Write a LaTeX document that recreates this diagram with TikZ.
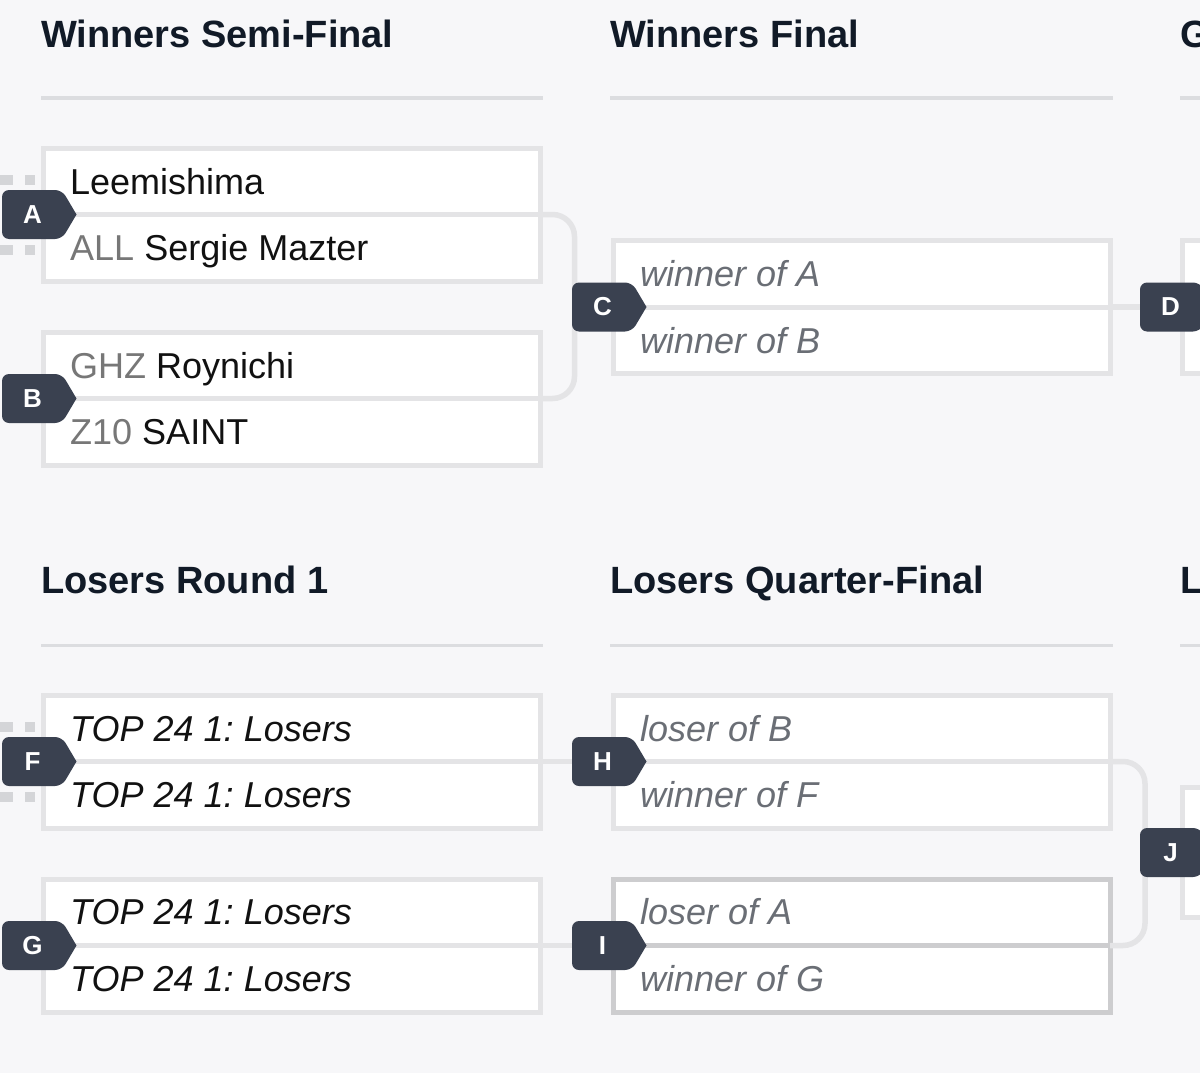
\documentclass[tikz,border=0pt]{standalone}
\usepackage{fontspec}
\setmainfont{Liberation Sans}
\usetikzlibrary{calc}
\definecolor{bg}{HTML}{F7F7F9}
\definecolor{boxline}{HTML}{E4E4E6}
\definecolor{boxdark}{HTML}{CDCDCF}
\definecolor{badgecol}{HTML}{3A4150}
\definecolor{headcol}{HTML}{111A27}
\definecolor{rulecol}{HTML}{DCDDE0}
\definecolor{stubcol}{HTML}{D4D5D8}
\definecolor{namecol}{HTML}{111111}
\definecolor{tagcol}{HTML}{777777}
\definecolor{phcol}{HTML}{6A6E75}
\tikzset{
 matchbox/.style={draw=boxline, line width=5pt, fill=white, minimum width=497pt, minimum height=133pt, inner sep=0pt, outer sep=0pt},
 divider/.style={draw=boxline, line width=5pt},
 conn/.style={draw=boxline, line width=5.5pt},
 bracketline/.style={conn, rounded corners=22pt},
 stubline/.style={draw=stubcol, line width=10pt, dash pattern=on 13pt off 12pt},
 header/.style={anchor=base west, inner sep=0pt, font=\fontsize{38}{40}\selectfont\bfseries, text=headcol},
 headrule/.style={draw=rulecol, line width=3pt},
 entry/.style={anchor=base west, inner sep=0pt, font=\fontsize{36}{40}\selectfont, text=namecol},
 ph/.style={entry, font=\fontsize{36}{40}\selectfont\itshape, text=phcol},
 tbd/.style={entry, font=\fontsize{36}{40}\selectfont\itshape},
 badgeletter/.style={font=\fontsize{26}{28}\selectfont\bfseries, text=white, inner sep=0pt},
}
\newcommand\matchbadge[4]{%
 \fill[badgecol] (#2,#3) [rounded corners=7pt] -- ++(0,-24.5) -- ++(60,0) [sharp corners] -- ++(14.5,24.5) [rounded corners=7pt] -- ++(-14.5,24.5) -- ++(-60,0) -- cycle;
 \node[badgeletter] (#1) at ($(#2,#3)+(30.5,0)$) {#4};
}
\newcommand\stubpair[3]{%
 \coordinate (#1up) at (0,#2-35);
 \coordinate (#1dn) at (0,#2+35);
 \draw[stubline] (#1up) -- ++(35,0);
 \draw[stubline] (#1dn) -- ++(35,0);
}
\begin{document}
\begin{tikzpicture}[x=1pt, y=-1pt]
\path[use as bounding box] (0,0) rectangle (1200,1073);
\clip (0,0) rectangle (1200,1073);
\fill[bg] (0,0) rectangle (1200,1073);

% headers
\node[header] (h1) at (41,48) {Winners Semi-Final};
\node[header] (h2) at (610,48) {Winners Final};
\node[header] (h3) at (1180,48) {G};
\node[header] (h4) at (41,593) {Losers Round 1};
\node[header] (h5) at (610,593) {Losers Quarter-Final};
\node[header] (h6) at (1180,593) {L};
\draw[headrule] (41,98) -- (543,98);
\draw[headrule] (610,98) -- (1113,98);
\draw[headrule] (1180,98) -- (1200,98);
\draw[headrule] (41,645) -- (543,645);
\draw[headrule] (610,645) -- (1113,645);
\draw[headrule] (1180,645) -- (1200,645);

% match boxes
\node[matchbox] (Abox) at (292,214.5) {};
\node[matchbox] (Bbox) at (292,398.5) {};
\node[matchbox] (Cbox) at (861.5,307) {};
\node[matchbox] (Dbox) at (1431,307) {};
\node[matchbox] (Fbox) at (292,761.5) {};
\node[matchbox] (Gbox) at (292,945.5) {};
\node[matchbox] (Hbox) at (861.5,761.5) {};
\node[matchbox, draw=boxdark] (Ibox) at (861.5,945.5) {};
\node[matchbox, minimum height=130pt] (Jbox) at (1431,852.5) {};

% connector targets under the badges
\coordinate (Din) at (1170,307);
\coordinate (Hin) at (602,761.5);
\coordinate (Iin) at (602,945.5);

% connectors
\draw[bracketline] (Abox.east) -- ++(34,0) |- (Bbox.east);
\draw[conn] (Cbox.east) -- (Din);
\draw[conn] (Fbox.east) -- (Hin);
\draw[conn] (Gbox.east) -- (Iin);
\draw[bracketline] (Hbox.east) -- ++(35,0) |- (Ibox.east);

% dividers
\draw[divider] (Abox.west) -- (Abox.east);
\draw[divider] (Bbox.west) -- (Bbox.east);
\draw[divider] (Cbox.west) -- (Cbox.east);
\draw[divider] (Dbox.west) -- (Dbox.east);
\draw[divider] (Fbox.west) -- (Fbox.east);
\draw[divider] (Gbox.west) -- (Gbox.east);
\draw[divider] (Hbox.west) -- (Hbox.east);
\draw[divider, draw=boxdark] (Ibox.west) -- (Ibox.east);
\draw[divider] (Jbox.west) -- (Jbox.east);

% entries
\node[entry] (A1) at (70,194) {Leemishima};
\node[entry] (A2) at (70,260.5) {\textcolor{tagcol}{ALL} Sergie Mazter};
\node[entry] (B1) at (70,378) {\textcolor{tagcol}{GHZ} Roynichi};
\node[entry] (B2) at (70,444.5) {\textcolor{tagcol}{Z10} SAINT};
\node[ph] (C1) at (640,286.5) {winner of A};
\node[ph] (C2) at (640,353) {winner of B};
\node[tbd] (F1) at (70,741) {TOP 24 1:\kern-3pt{} Losers};
\node[tbd] (F2) at (70,807) {TOP 24 1:\kern-3pt{} Losers};
\node[tbd] (G1) at (70,924.5) {TOP 24 1:\kern-3pt{} Losers};
\node[tbd] (G2) at (70,991.5) {TOP 24 1:\kern-3pt{} Losers};
\node[ph] (H1) at (640,741) {loser of B};
\node[ph] (H2) at (640,807) {winner of F};
\node[ph] (I1) at (640,924.5) {loser of A};
\node[ph] (I2) at (640,991.5) {winner of G};

% incoming stubs
\stubpair{As}{214.5}
\stubpair{Bs}{398.5}
\stubpair{Fs}{761.5}
\stubpair{Gs}{945.5}

% badges
\matchbadge{Ab}{2}{214.5}{A}
\matchbadge{Bb}{2}{398.5}{B}
\matchbadge{Cb}{572}{307}{C}
\matchbadge{Db}{1140}{307}{D}
\matchbadge{Fb}{2}{761.5}{F}
\matchbadge{Gb}{2}{945.5}{G}
\matchbadge{Hb}{572}{761.5}{H}
\matchbadge{Ib}{572}{945.5}{I}
\matchbadge{Jb}{1140}{852.5}{J}
\end{tikzpicture}
\end{document}
